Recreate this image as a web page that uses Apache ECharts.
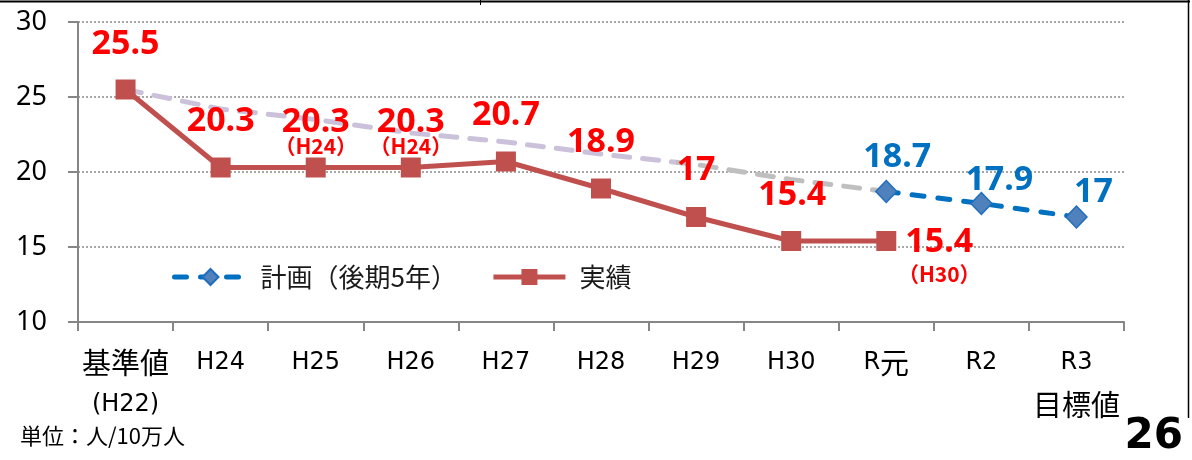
<!DOCTYPE html>
<html>
<head>
<meta charset="utf-8">
<script src="https://cdn.jsdelivr.net/npm/echarts@6/dist/echarts.min.js"></script>
<style>
html,body{margin:0;padding:0;background:#fff;}
#chart{width:1192px;height:460px;}
</style>
</head>
<body>
<div id="chart"></div>
<script>
// ---- data ----
const categories = ['基準値\n(H22)', 'H24', 'H25', 'H26', 'H27', 'H28', 'H29', 'H30', 'R元', 'R2', 'R3\n目標値'];
const actualValues = [25.5, 20.3, 20.3, 20.3, 20.7, 18.9, 17, 15.4, 15.4, null, null];
const actualNotes = [null, null, '（H24）', '（H24）', null, null, null, null, '（H30）', null, null];
const planValues = [null, null, null, null, null, null, null, null, 18.7, 17.9, 17];
const previousPlanValues = [25.5, 24.2, 23.5, 22.6, 22.0, 21.2, 20.5, 19.5, 18.7, null, null];
const seriesNames = ['計画（後期5年）', '実績'];
const yMin = 10, yMax = 30, yStep = 5;
const unitText = '単位：人/10万人';
const pageNumber = '26';

// ---- label layout (style only) ----
const actualLabelOffsets = [[0,-45],[0,-46],[0,-36],[0,-36],[0,-46],[0,-46],[0,-47],[1,-46],[53,18]];
const actualNoteStyles = [null, null, 's', 's', null, null, null, null, 't'];
const planLabelOffsets = {8: [11,-34], 9: [18,-23], 10: [17,-25]};
const colorSwitchAt = 5.78; // category position where the trend line turns grey

const RED = '#C0504D', BLUE = '#0070C0';
const cjk = /[\u3000-\u9fff\uff00-\uffef]/;

function richCategory(v) {
  return v.split('\n').map(function (line) {
    let out = '', buf = '', mode = null;
    for (const ch of line) {
      const m = cjk.test(ch) ? 'c' : 'l';
      if (m !== mode && buf) { out += '{' + mode + '|' + buf + '}'; buf = ''; }
      mode = m; buf += ch;
    }
    if (buf) out += '{' + mode + '|' + buf + '}';
    return out;
  }).join('\n');
}

const actualData = actualValues.map(function (v, i) {
  if (v == null) return '-';
  return { value: v, label: { offset: actualLabelOffsets[i] } };
});
const planData = planValues.map(function (v, i) {
  if (v == null) return '-';
  return { value: v, label: { offset: planLabelOffsets[i] || [0, -30] } };
});
const prevData = previousPlanValues.map(function (v) { return v == null ? '-' : v; });
let lastPrev = 0;
previousPlanValues.forEach(function (v, i) { if (v != null) lastPrev = i; });
const stop = colorSwitchAt / lastPrev;
const trendColor = new echarts.graphic.LinearGradient(0, 0, 1, 0, [
  { offset: 0, color: '#CCC1DA' }, { offset: stop, color: '#CCC1DA' },
  { offset: stop, color: '#BFBFBF' }, { offset: 1, color: '#BFBFBF' }
]);

const valueFont = { fontFamily: 'Noto Sans', fontWeight: 'bold', fontSize: 34, lineHeight: 30 };
const noteFont = { fontFamily: 'Noto Sans CJK JP', fontWeight: 'bold', fontSize: 21, color: '#FF0000' };

const chart = echarts.init(document.getElementById('chart'), null, { renderer: 'canvas' });
chart.setOption({
  animation: false,
  grid: { left: 78, right: 68, top: 22, bottom: 138, containLabel: false },
  legend: {
    left: 167, top: 259,
    itemWidth: 72, itemHeight: 20, itemGap: 34,
    data: [
      { name: seriesNames[0], lineStyle: { width: 5, color: BLUE, type: [12, 14], cap: 'round' } },
      { name: seriesNames[1], lineStyle: { width: 5, color: RED } }
    ],
    textStyle: { fontFamily: 'Noto Sans CJK JP', fontSize: 26, color: '#1a1a1a', padding: [0, 0, 0, 9] }
  },
  xAxis: {
    type: 'category', data: categories, boundaryGap: true,
    axisLine: { lineStyle: { color: '#868686', width: 2 } },
    axisTick: { show: true, length: 9, lineStyle: { color: '#868686', width: 2 } },
    axisLabel: {
      margin: 20, color: '#000', interval: 0,
      formatter: richCategory,
      rich: {
        l: { fontFamily: 'DejaVu Sans', fontSize: 24, lineHeight: 42, color: '#000' },
        c: { fontFamily: 'Noto Sans CJK JP', fontSize: 29, lineHeight: 42, color: '#000' }
      }
    }
  },
  yAxis: {
    type: 'value', min: yMin, max: yMax, interval: yStep,
    axisLine: { show: true, lineStyle: { color: '#868686', width: 2 } },
    axisTick: { show: true, length: 10, lineStyle: { color: '#868686', width: 2 } },
    axisLabel: { margin: 31, fontFamily: 'Noto Sans', fontSize: 27, color: '#000' },
    splitLine: { show: true, lineStyle: { color: '#8a8a8a', width: 1.5, type: [2, 2] } }
  },
  series: [
    {
      type: 'line', data: prevData, symbol: 'none', z: 1, silent: true,
      lineStyle: { width: 5, type: [16, 13], cap: 'round', color: trendColor }
    },
    {
      name: seriesNames[1], type: 'line', data: actualData, z: 3,
      symbol: 'rect', symbolSize: 20,
      itemStyle: { color: RED },
      lineStyle: { width: 5, color: RED },
      label: {
        show: true, position: 'inside',
        formatter: function (p) {
          const n = actualNotes[p.dataIndex];
          const s = '{v|' + p.value + '}';
          return n ? s + '\n{' + actualNoteStyles[p.dataIndex] + '|' + n + '}' : s;
        },
        rich: {
          v: Object.assign({ color: '#FF0000' }, valueFont),
          s: Object.assign({ lineHeight: 18 }, noteFont),
          t: Object.assign({ lineHeight: 34 }, noteFont)
        }
      }
    },
    {
      name: seriesNames[0], type: 'line', data: planData, z: 4,
      symbol: 'diamond', symbolSize: [21, 22],
      itemStyle: { color: '#4F81BD', borderColor: '#1F6EBE', borderWidth: 1.5 },
      lineStyle: { width: 5, color: BLUE, type: [12, 14], cap: 'round' },
      label: {
        show: true, position: 'inside',
        formatter: function (p) { return '{v|' + p.value + '}'; },
        rich: { v: Object.assign({ color: BLUE }, valueFont) }
      }
    }
  ],
  graphic: [
    { type: 'line', shape: { x1: 0, y1: 1.5, x2: 1190, y2: 1.5 }, style: { stroke: '#000', lineWidth: 2 }, silent: true },
    { type: 'line', shape: { x1: 1188.5, y1: 0, x2: 1188.5, y2: 418 }, style: { stroke: '#000', lineWidth: 1.5 }, silent: true },
    { type: 'line', shape: { x1: 480.5, y1: 0, x2: 480.5, y2: 5 }, style: { stroke: '#000', lineWidth: 1 }, silent: true },
    { type: 'text', left: 20, top: 425, style: { text: unitText, font: '22px "Noto Sans CJK JP"', fill: '#000' } },
    { type: 'text', right: 9, top: 416, style: { text: pageNumber, font: 'bold 42px "DejaVu Sans"', fill: '#000' } }
  ]
});
</script>
</body>
</html>
